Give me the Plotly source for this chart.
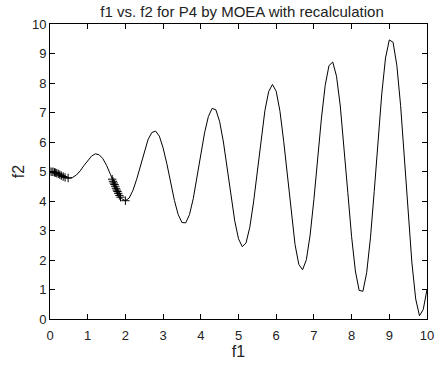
import plotly.graph_objects as go

# curve samples (f1 step 0.1)
f1 = [round(0.1 * i, 1) for i in range(101)]
f2 = [5.00, 4.98, 4.93, 4.86, 4.80, 4.77, 4.80, 4.88, 5.02, 5.20,
      5.38, 5.52, 5.60, 5.57, 5.44, 5.21, 4.91, 4.58, 4.29, 4.08,
      4.01, 4.10, 4.36, 4.74, 5.21, 5.68, 6.08, 6.32, 6.37, 6.20,
      5.80, 5.26, 4.63, 4.02, 3.54, 3.27, 3.26, 3.54, 4.08, 4.79,
      5.58, 6.31, 6.86, 7.14, 7.09, 6.69, 6.00, 5.12, 4.18, 3.33,
      2.72, 2.45, 2.58, 3.11, 3.97, 5.02, 6.11, 7.06, 7.71, 7.95,
      7.72, 7.04, 6.01, 4.79, 3.56, 2.52, 1.85, 1.67, 2.01, 2.85,
      4.05, 5.45, 6.81, 7.92, 8.59, 8.71, 8.23, 7.22, 5.84, 4.28,
      2.79, 1.63, 0.97, 0.94, 1.57, 2.75, 4.32, 6.04, 7.63, 8.85,
      9.46, 9.38, 8.60, 7.23, 5.46, 3.59, 1.90, 0.68, 0.11, 0.32,
      1.00]

# MOEA solutions (+ markers)
sol_f1 = [0.00, 0.05, 0.08, 0.12, 0.15, 0.18, 0.22, 0.26, 0.30, 0.35, 0.40, 0.48,
          1.65, 1.67, 1.69, 1.71, 1.73, 1.75, 1.77, 1.79, 1.81, 1.84, 1.87, 2.00]
sol_f2 = [5.00, 4.99, 4.99, 4.97, 4.96, 4.94, 4.92, 4.89, 4.86, 4.83, 4.80, 4.78,
          4.74, 4.67, 4.61, 4.56, 4.50, 4.43, 4.37, 4.32, 4.26, 4.19, 4.13, 4.01]

fig = go.Figure()
fig.add_trace(go.Scatter(x=f1, y=f2, mode="lines",
                         line=dict(color="black", width=1), showlegend=False))
fig.add_trace(go.Scatter(x=sol_f1, y=sol_f2, mode="markers",
                         marker=dict(symbol="cross-thin", size=6,
                                     line=dict(color="black", width=1)),
                         showlegend=False))

FAM = "Liberation Sans, Arial, sans-serif"
font = dict(family=FAM, size=13, color="#222")
axis_common = dict(range=[0, 10], dtick=1, showgrid=False, zeroline=False,
                   showline=True, linecolor="black", linewidth=1, mirror="ticks",
                   ticks="inside", ticklen=5, tickcolor="black",
                   tickfont=dict(family=FAM, size=13, color="#222"))
fig.update_layout(
    width=446, height=368,
    margin=dict(l=50, r=12, t=24, b=42),
    paper_bgcolor="white", plot_bgcolor="white",
    font=font,
    title=dict(text="f1 vs. f2 for P4 by MOEA with recalculation",
               x=(50 + 434) / 2 / 446, xanchor="center", y=1 - 12 / 368, yanchor="middle",
               font=dict(family=FAM, size=15, color="#222")),
    xaxis=dict(axis_common, ticklabelstandoff=4, title=dict(text="f1", standoff=2)),
    yaxis=dict(axis_common, title=dict(text="f2", standoff=3)),
)
fig.write_html("out.html")
